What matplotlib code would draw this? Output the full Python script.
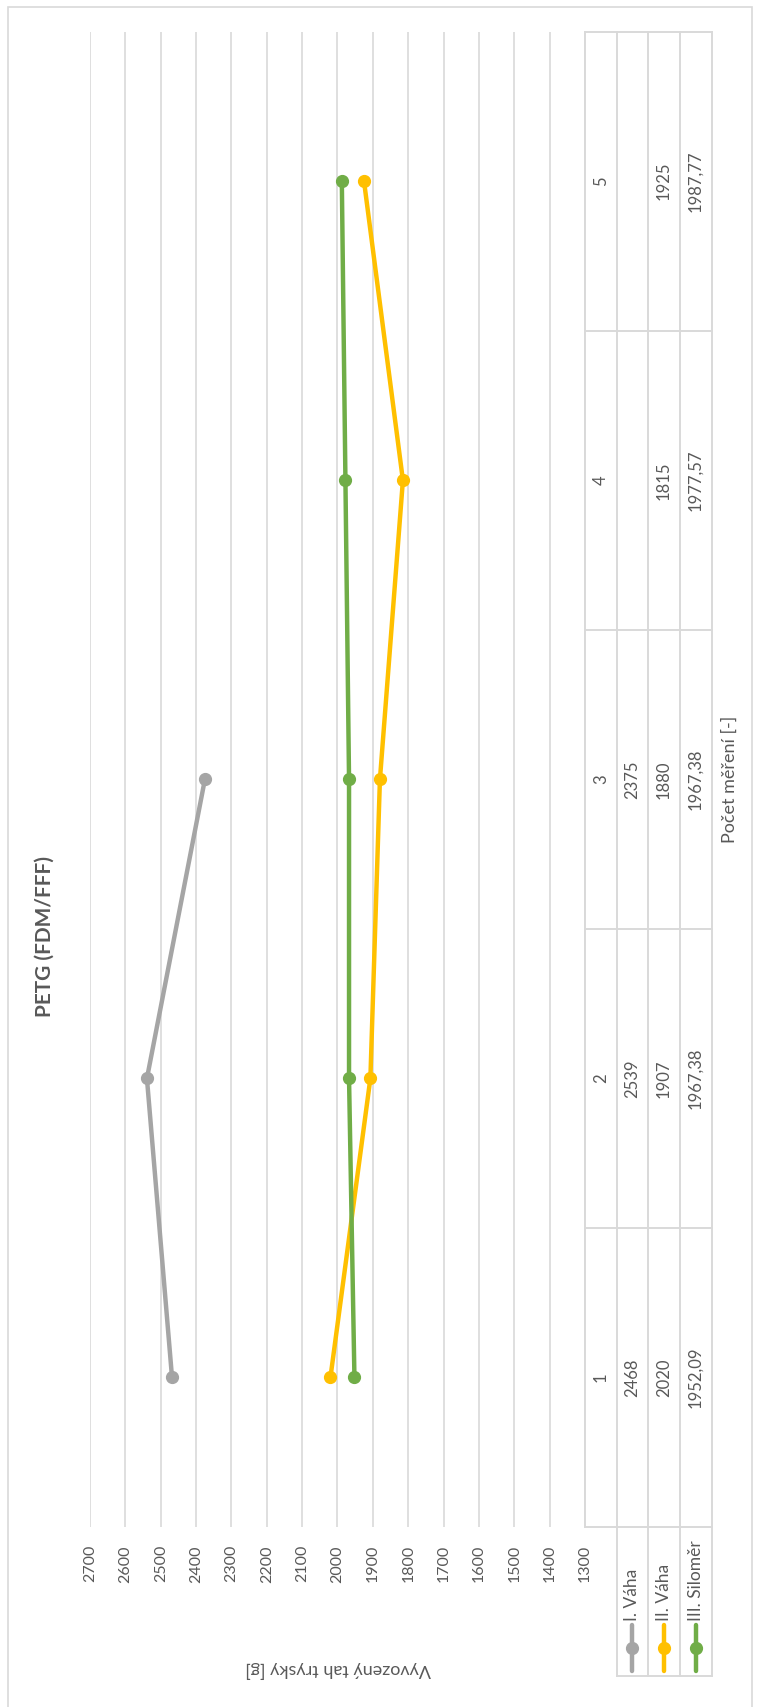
import numpy as np
import matplotlib
matplotlib.use("Agg")
import matplotlib.pyplot as plt
from matplotlib.lines import Line2D
from matplotlib.patches import Rectangle

plt.rcParams['font.family'] = ['Lato', 'DejaVu Sans']

# ---------------- data ----------------
categories = [1, 2, 3, 4, 5]
series_names = ["I. Váha", "II. Váha", "III. Siloměr"]
vaha1 = [2468, 2539, 2375, np.nan, np.nan]
vaha2 = [2020, 1907, 1880, 1815, 1925]
silomer = [1952.09, 1967.38, 1967.38, 1977.57, 1987.77]
table_text = [
    ["2468", "2539", "2375", "", ""],
    ["2020", "1907", "1880", "1815", "1925"],
    ["1952,09", "1967,38", "1967,38", "1977,57", "1987,77"],
]
colors = ["#A5A5A5", "#FFC000", "#70AD47"]
title = "PETG (FDM/FFF)"
value_title = "Vyvozený tah trysky [g]"
cat_title = "Počet měření [-]"
vmin, vmax, vstep = 1300, 2700, 100

TXT = "#595959"
GRID = "#D9D9D9"

W, H = 760, 1707
fig = plt.figure(figsize=(W / 100, H / 100), dpi=100)


def fx(px):
    return px / W


def fy(py):
    return 1 - py / H


# outer chart border
fig.add_artist(Rectangle((fx(8), fy(1720)), fx(752) - fx(8), fy(7) - fy(1720),
                         transform=fig.transFigure, fill=False, edgecolor=GRID, lw=1.2))

# plot area
L, R, T, B = 90, 585, 31.7, 1527
ax = fig.add_axes([fx(L), fy(B), fx(R) - fx(L), fy(T) - fy(B)])
ax.set_xlim(vmax, vmin)
ax.set_ylim(0.5, len(categories) + 0.5)
for s in ax.spines.values():
    s.set_visible(False)
ax.set_xticks(np.arange(vmin, vmax + 1, vstep))
ax.set_xticklabels([str(v) for v in range(vmin, vmax + 1, vstep)], rotation=90,
                   color=TXT, fontsize=11.5)
ax.tick_params(axis='x', length=0, pad=13)
ax.set_yticks([])
ax.grid(axis='x', color=GRID, lw=1.2)
ax.set_axisbelow(True)

for vals, c in zip([vaha1, vaha2, silomer], colors):
    ax.plot(vals, categories, color=c, lw=3.2, marker='o', markersize=8.5,
            solid_capstyle='round', zorder=3)

# data table
tax = fig.add_axes([fx(585), fy(B), fx(711.5) - fx(585), fy(T) - fy(B)])
tax.set_xlim(0, 4)
tax.set_ylim(0.5, len(categories) + 0.5)
tax.axis('off')
for xv in range(5):
    tax.plot([xv, xv], [0.5, len(categories) + 0.5], color=GRID, lw=1.4, clip_on=False)
for yv in np.arange(0.5, len(categories) + 1):
    tax.plot([0, 4], [yv, yv], color=GRID, lw=1.4, clip_on=False)
for i, cat in enumerate(categories):
    tax.text(0.5, cat, str(cat), rotation=90, ha='center', va='center',
             color=TXT, fontsize=12)
    for j in range(3):
        tax.text(1.5 + j, cat, table_text[j][i], rotation=90, ha='center',
                 va='center', color=TXT, fontsize=12)

# legend keys under the table
lax = fig.add_axes([fx(585), fy(1676), fx(711.5) - fx(585), fy(B) - fy(1676)])
lax.set_xlim(0, 4)
lax.set_ylim(1676, B)
lax.axis('off')
for xv in range(1, 5):
    lax.plot([xv, xv], [B, 1676], color=GRID, lw=1.4, clip_on=False)
lax.plot([1, 4], [1676, 1676], color=GRID, lw=1.4, clip_on=False)
for j, (name, c) in enumerate(zip(series_names, colors)):
    xc = 1.5 + j
    lax.plot([xc, xc], [1625, 1671], color=c, lw=3.2, solid_capstyle='round', clip_on=False)
    lax.plot([xc], [1648], color=c, marker='o', markersize=8.5, clip_on=False)
    lax.text(xc, 1621, name, rotation=90, ha='center', va='bottom', color=TXT,
             fontsize=12.5)

# titles
fig.text(fx(45), fy(936), title, rotation=90, ha='center', va='center',
         fontsize=15, fontweight='bold', color=TXT)
fig.text(fx(730), fy(779), cat_title, rotation=90, ha='center', va='center',
         fontsize=13, color=TXT)
fig.text(fx(338), fy(1670), value_title, rotation=180, ha='center', va='center',
         fontsize=13, color=TXT)

fig.savefig("out.png", dpi=100, facecolor='white')
